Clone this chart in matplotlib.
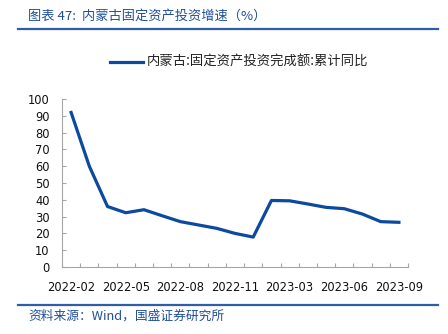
import matplotlib
matplotlib.use("Agg")
import matplotlib.pyplot as plt
from matplotlib.lines import Line2D
import numpy as np

plt.rcParams['font.family'] = ['DejaVu Sans', 'Noto Sans CJK SC']

months = ["2022-02", "2022-03", "2022-04", "2022-05", "2022-06", "2022-07", "2022-08",
          "2022-09", "2022-10", "2022-11", "2022-12", "2023-02", "2023-03", "2023-04",
          "2023-05", "2023-06", "2023-07", "2023-08", "2023-09"]
values = [92.0, 60.0, 36.0, 32.3, 34.1, 30.5, 27.0, 25.0, 23.0, 20.0, 17.8, 39.6, 39.4,
          37.5, 35.5, 34.7, 31.5, 27.0, 26.6]
series_name = "内蒙古:固定资产投资完成额:累计同比"
title = "图表 47:  内蒙古固定资产投资增速（%）"
source = "资料来源：Wind，国盛证券研究所"

blue = "#0b4a9e"
grey = "#a6a6a6"

fig = plt.figure(figsize=(4.48, 3.34), dpi=100)
ax = fig.add_axes([62/448, 1-267/334, (408-62)/448, (267-99)/334])

x = np.arange(len(months))
ax.plot(x, values, color=blue, lw=2.3, solid_joinstyle='round')
ax.set_xlim(-0.5, len(months)-0.5)
ax.set_ylim(0, 100)
ax.set_yticks(range(0, 101, 10))

ax.set_xticks(x[::3])
ax.set_xticklabels(months[::3])
ax.set_xticks(np.arange(-0.5, len(months), 1.0), minor=True)
ax.tick_params(axis='x', which='major', length=0, pad=10, labelsize=8.3, labelcolor='#111111')
ax.tick_params(axis='x', which='minor', length=3, direction='in', color=grey, width=0.8)
ax.tick_params(axis='y', which='major', length=3, direction='in', color=grey, width=0.8,
               labelsize=8.3, pad=9, labelcolor='#111111')
for s in ['top', 'right']:
    ax.spines[s].set_visible(False)
for s in ['left', 'bottom']:
    ax.spines[s].set_color(grey)
    ax.spines[s].set_linewidth(0.8)

# legend
fig.add_artist(Line2D([110/448, 143/448], [1-62/334, 1-62/334], color=blue, lw=2.3))
fig.text(147/448, 1-62/334, series_name, va='center', ha='left', fontsize=9.6,
         family=['Noto Sans CJK SC'], color='#222222')

# title and source
fig.text(28/448, 1-16/334, title, va='center', ha='left', fontsize=9.5,
         family=['Noto Sans CJK SC', 'DejaVu Sans'], color="#1f4f9a")
fig.add_artist(Line2D([18/448, 438/448], [1-29/334, 1-29/334], color="#2e5ea8", lw=1.6))
fig.add_artist(Line2D([18/448, 438/448], [1-305/334, 1-305/334], color="#2e5ea8", lw=1.6))
fig.text(28/448, 1-316/334, source, va='center', ha='left', fontsize=9.2,
         family=['Noto Sans CJK SC', 'DejaVu Sans'], color="#1f4f9a")

fig.savefig("out.png", dpi=100)
